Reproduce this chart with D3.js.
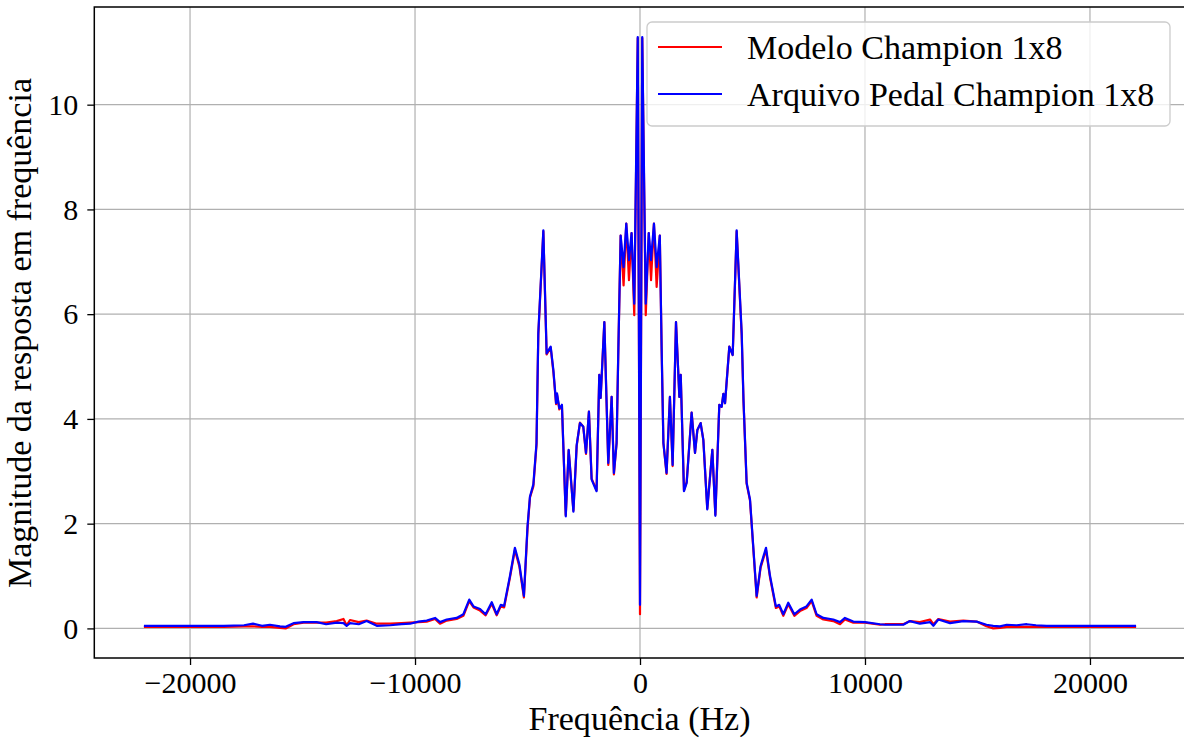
<!DOCTYPE html>
<html>
<head>
<meta charset="utf-8">
<script src="https://cdn.jsdelivr.net/npm/d3@7"></script>
<style>
  body { margin: 0; background: #fff; }
  svg { display: block; font-family: "Liberation Serif", "DejaVu Serif", serif; }
</style>
</head>
<body>
<div id="chart"></div>
<script>
// frequency points (Hz)
var freqHz = [
  -22050, -20000, -18500, -17600, -17200, -16800, -16450, -16000, -15750, -15400,
  -14950, -14370, -13950, -13480, -13180, -13040, -12890, -12500, -12150, -11700,
  -11100, -10600, -10220, -9850, -9480, -9110, -8890, -8590, -8150, -7850,
  -7590, -7400, -7110, -6860, -6590, -6370, -6190, -6040, -5780, -5560,
  -5360, -5160, -5000, -4890, -4740, -4600, -4520, -4296, -4150, -3970,
  -3850, -3730, -3690, -3585, -3470, -3300, -3170, -2960, -2815, -2670,
  -2520, -2400, -2270, -2150, -1930, -1810, -1750, -1585, -1410, -1260,
  -1160, -1040, -960, -860, -730, -610, -490, -375, -255, -100,
  0,
  100, 255, 390, 490, 620, 740, 880, 960, 1040, 1180,
  1330, 1450, 1600, 1750, 1810, 1955, 2075, 2295, 2445, 2550,
  2695, 2815, 2990, 3215, 3350, 3525, 3630, 3705, 3780, 3970,
  4120, 4296, 4520, 4600, 4740, 4890, 5185, 5360, 5600, 5780,
  6040, 6190, 6370, 6590, 6860, 7110, 7400, 7630, 7850, 8150,
  8590, 8890, 9110, 9480, 10000, 10670, 10890, 11700, 12000, 12440,
  12890, 13040, 13260, 13780, 14370, 14960, 15400, 15700, 16000, 16300,
  16740, 17190, 17600, 18070, 20000, 22050
];

// "Modelo Champion 1x8" (red)
var modeloMag = [
  0.03, 0.03, 0.03, 0.04, 0.04, 0.03, 0.03, 0.01, 0.00, 0.08,
  0.11, 0.11, 0.11, 0.14, 0.18, 0.06, 0.16, 0.12, 0.15, 0.09,
  0.09, 0.10, 0.11, 0.12, 0.13, 0.18, 0.09, 0.15, 0.18, 0.24,
  0.52, 0.40, 0.34, 0.25, 0.47, 0.25, 0.42, 0.40, 0.97, 1.50,
  1.18, 0.59, 1.90, 2.50, 2.71, 3.50, 5.60, 7.58, 5.23, 5.36,
  4.90, 4.28, 4.47, 4.18, 4.25, 2.16, 3.40, 2.25, 3.48, 3.93,
  3.85, 3.33, 4.14, 2.86, 2.64, 4.84, 4.40, 5.85, 3.12, 4.42,
  2.94, 3.54, 5.38, 7.50, 6.55, 7.73, 6.65, 7.55, 5.98, 11.27,
  0.27,
  11.27, 5.98, 7.55, 6.65, 7.73, 6.52, 7.50, 5.38, 3.54, 2.95,
  4.42, 3.10, 5.85, 4.42, 4.84, 2.64, 2.80, 4.12, 3.35, 3.79,
  3.92, 3.60, 2.29, 3.41, 2.17, 4.27, 4.23, 4.48, 4.30, 5.38,
  5.22, 7.58, 5.60, 4.34, 2.76, 2.44, 0.59, 1.16, 1.50, 0.97,
  0.39, 0.42, 0.24, 0.46, 0.24, 0.33, 0.39, 0.52, 0.24, 0.17,
  0.14, 0.08, 0.17, 0.11, 0.11, 0.07, 0.08, 0.08, 0.14, 0.12,
  0.17, 0.08, 0.18, 0.13, 0.15, 0.13, 0.04, 0.00, 0.01, 0.03,
  0.03, 0.03, 0.03, 0.03, 0.03, 0.03
];

// "Arquivo Pedal Champion 1x8" (blue)
var arquivoMag = [
  0.05, 0.05, 0.05, 0.06, 0.09, 0.05, 0.07, 0.04, 0.03, 0.10,
  0.12, 0.12, 0.08, 0.11, 0.10, 0.05, 0.10, 0.08, 0.14, 0.05,
  0.06, 0.08, 0.09, 0.13, 0.15, 0.20, 0.12, 0.17, 0.20, 0.27,
  0.55, 0.42, 0.37, 0.27, 0.50, 0.27, 0.45, 0.43, 1.00, 1.54,
  1.22, 0.62, 1.95, 2.52, 2.75, 3.54, 5.64, 7.60, 5.25, 5.38,
  4.93, 4.30, 4.49, 4.20, 4.27, 2.14, 3.41, 2.23, 3.50, 3.92,
  3.85, 3.35, 4.14, 2.84, 2.62, 4.84, 4.40, 5.85, 3.16, 4.42,
  2.97, 3.54, 5.38, 7.50, 6.90, 7.73, 7.03, 7.55, 6.20, 11.29,
  0.45,
  11.29, 6.20, 7.55, 7.03, 7.73, 6.90, 7.50, 5.38, 3.54, 2.97,
  4.42, 3.12, 5.85, 4.42, 4.84, 2.62, 2.78, 4.12, 3.35, 3.79,
  3.92, 3.60, 2.27, 3.41, 2.15, 4.27, 4.23, 4.48, 4.30, 5.38,
  5.22, 7.60, 5.64, 4.36, 2.78, 2.46, 0.62, 1.19, 1.54, 1.00,
  0.42, 0.45, 0.27, 0.49, 0.27, 0.36, 0.42, 0.55, 0.27, 0.20,
  0.17, 0.12, 0.20, 0.13, 0.12, 0.08, 0.07, 0.07, 0.14, 0.09,
  0.12, 0.05, 0.17, 0.10, 0.14, 0.13, 0.07, 0.05, 0.04, 0.07,
  0.06, 0.08, 0.06, 0.05, 0.05, 0.05
];

var seriesNames = ["Modelo Champion 1x8", "Arquivo Pedal Champion 1x8"];
var seriesColors = ["#ff0000", "#0000ff"];
var xTicks = [-20000, -10000, 0, 10000, 20000];
var yTicks = [0, 2, 4, 6, 8, 10];

var width = 1184, height = 742;
var plot = { left: 94.3, right: 1185.7, top: 7, bottom: 658 };

var svg = d3.select("#chart").append("svg")
    .attr("width", width)
    .attr("height", height);

var x = d3.scaleLinear().domain([-24255, 24255]).range([plot.left, plot.right]);
var y = d3.scaleLinear().domain([-0.565, 11.865]).range([plot.bottom, plot.top]);

// work out a font size that gives a wanted text width
function fitSize(str, target) {
    var t = svg.append("text").style("font-size", "100px").text(str);
    var w = t.node().getComputedTextLength();
    t.remove();
    return 100 * target / w;
}
var tickSize = fitSize("20000", 75);
var labelSize = fitSize("Frequência (Hz)", 222);

// grid
var grid = svg.append("g");
grid.selectAll(".gx").data(xTicks).enter().append("line")
    .attr("x1", function(d) { return x(d); }).attr("x2", function(d) { return x(d); })
    .attr("y1", plot.top).attr("y2", plot.bottom)
    .style("stroke", "#b0b0b0").style("stroke-width", 1.2);
grid.selectAll(".gy").data(yTicks).enter().append("line")
    .attr("x1", plot.left).attr("x2", plot.right)
    .attr("y1", function(d) { return y(d); }).attr("y2", function(d) { return y(d); })
    .style("stroke", "#b0b0b0").style("stroke-width", 1.2);

// lines
svg.append("clipPath").attr("id", "clip").append("rect")
    .attr("x", plot.left).attr("y", plot.top)
    .attr("width", plot.right - plot.left).attr("height", plot.bottom - plot.top);

var line = d3.line()
    .x(function(d) { return x(d[0]); })
    .y(function(d) { return y(d[1]); });

[modeloMag, arquivoMag].forEach(function(vals, k) {
    svg.append("path")
        .datum(freqHz.map(function(f, i) { return [f, vals[i]]; }))
        .attr("clip-path", "url(#clip)")
        .attr("d", line)
        .style("fill", "none")
        .style("stroke", seriesColors[k])
        .style("stroke-width", 2.2)
        .style("stroke-linejoin", "round");
});

// axes
var xAxis = svg.append("g")
    .attr("transform", "translate(0," + plot.bottom + ")")
    .call(d3.axisBottom(x).tickValues(xTicks).tickFormat(d3.format("d"))
        .tickSize(7).tickPadding(7).tickSizeOuter(0));
var yAxis = svg.append("g")
    .attr("transform", "translate(" + plot.left + ",0)")
    .call(d3.axisLeft(y).tickValues(yTicks).tickFormat(d3.format("d"))
        .tickSize(7).tickPadding(9).tickSizeOuter(0));

[xAxis, yAxis].forEach(function(a) {
    a.select(".domain").remove();
    a.selectAll(".tick line").style("stroke", "#000").style("stroke-width", 1.3);
    a.selectAll(".tick text")
        .style("font-family", "Liberation Serif, DejaVu Serif, serif")
        .style("font-size", tickSize + "px")
        .style("fill", "#000");
});

// spines
svg.append("rect")
    .attr("x", plot.left).attr("y", plot.top)
    .attr("width", plot.right - plot.left).attr("height", plot.bottom - plot.top)
    .style("fill", "none").style("stroke", "#000").style("stroke-width", 1.5);

// axis titles
svg.append("text")
    .attr("x", (plot.left + plot.right) / 2 - 0.5)
    .attr("y", 730)
    .attr("text-anchor", "middle")
    .style("font-size", labelSize + "px")
    .text("Frequência (Hz)");

svg.append("text")
    .attr("transform", "translate(31," + 333 + ") rotate(-90)")
    .attr("text-anchor", "middle")
    .style("font-size", labelSize + "px")
    .text("Magnitude da resposta em frequência");

// legend
var legend = svg.append("g");
legend.append("rect")
    .attr("x", 647).attr("y", 22).attr("width", 523).attr("height", 104)
    .attr("rx", 5)
    .style("fill", "#fff").style("fill-opacity", 0.8)
    .style("stroke", "#cccccc").style("stroke-width", 1.3);

seriesNames.forEach(function(name, i) {
    var ly = 47 + i * 47;
    legend.append("line")
        .attr("x1", 658).attr("x2", 722).attr("y1", ly).attr("y2", ly)
        .style("stroke", seriesColors[i]).style("stroke-width", 2);
    legend.append("text")
        .attr("x", 747).attr("y", ly)
        .attr("dy", "0.35em")
        .style("font-size", labelSize + "px")
        .text(name);
});
</script>
</body>
</html>
